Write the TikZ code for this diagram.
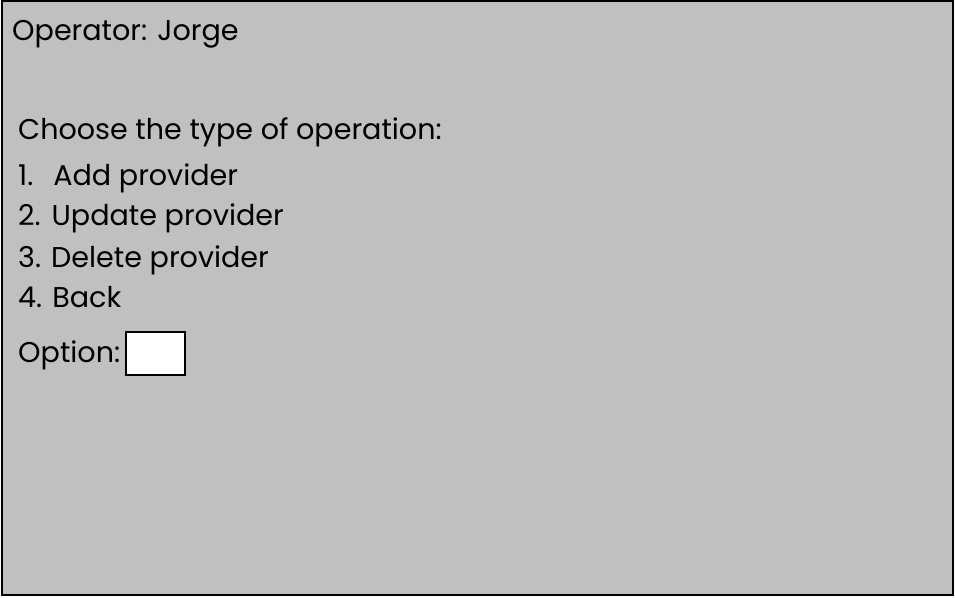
\documentclass[tikz,border=0pt]{standalone}
\usepackage{fontspec}
\setmainfont{Poppins}
\definecolor{panelgray}{HTML}{C0C0C0}
\tikzset{
  lbl/.style={anchor=base west, inner sep=0pt, font=\fontsize{28.6}{34}\selectfont},
  panel/.style={draw=black, line width=2pt, fill=panelgray},
  inputbox/.style={draw=black, line width=1.5pt, fill=white, minimum width=59pt, minimum height=43pt, inner sep=0pt, anchor=north west}
}
\begin{document}
\begin{tikzpicture}[x=1pt,y=-1pt]
\useasboundingbox (0,0) rectangle (955,597);
\draw[panel] (2,1) rectangle (953,595);
\node[lbl] (op) at (12,40) {Operator: Jorge};
\node[lbl] (choose) at (18,139) {Choose the type of operation:};
\node[lbl] (o1) at (18,185) {1.\hspace{20pt}Add provider};
\node[lbl] (o2) at (18,225) {2.\hspace{11pt}Update provider};
\node[lbl] (o3) at (18,267) {3. Delete provider};
\node[lbl] (o4) at (18,307) {4. Back};
\node[lbl] (opt) at (18,362) {Option:};
\node[inputbox] (box) at (125,331) {};
\end{tikzpicture}
\end{document}
